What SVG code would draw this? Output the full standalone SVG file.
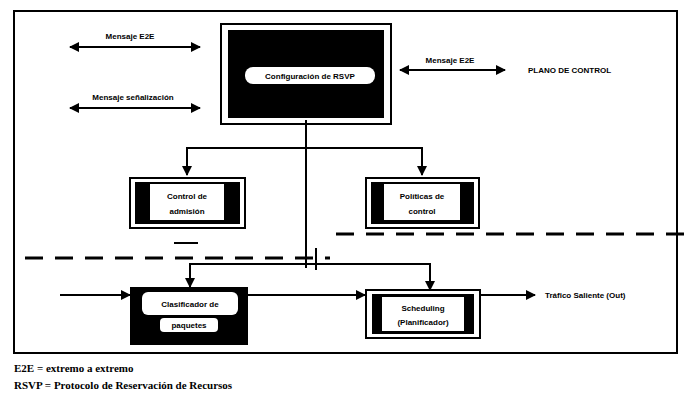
<svg xmlns="http://www.w3.org/2000/svg" width="698" height="398" viewBox="0 0 698 398">
<defs>
<marker id="ah" viewBox="0 0 10 10" refX="9" refY="5" markerWidth="5" markerHeight="5" orient="auto-start-reverse"><path d="M0,0 L10,5 L0,10 z" fill="#000"/></marker>
<style>
.t{font-family:"Liberation Sans",Arial,sans-serif;font-weight:bold;font-size:8px;fill:#000}
.w{font-family:"Liberation Sans",Arial,sans-serif;font-weight:bold;font-size:8px;fill:#000}
.n{font-family:"Liberation Serif","Times New Roman",serif;font-weight:bold;font-size:11px;fill:#000}
.ln{stroke:#000;stroke-width:2;fill:none}
.dash{stroke:#000;stroke-width:3;stroke-dasharray:18 12;fill:none}
.blk{fill:#000}
.frm{fill:#fff;stroke:#000;stroke-width:2}
</style>
</defs>
<rect x="14" y="11" width="663" height="342" fill="none" stroke="#000" stroke-width="2"/>

<g id="connectors">
<line class="ln" x1="70" y1="47" x2="200" y2="47" marker-start="url(#ah)" marker-end="url(#ah)"/>
<line class="ln" x1="70" y1="108" x2="200" y2="108" marker-start="url(#ah)" marker-end="url(#ah)"/>
<line class="ln" x1="400" y1="70" x2="505" y2="70" marker-start="url(#ah)" marker-end="url(#ah)"/>
<line class="ln" x1="306" y1="120" x2="306" y2="268"/>
<polyline class="ln" points="187,175 187,148 422,148 422,175" marker-start="url(#ah)" marker-end="url(#ah)"/>
<polyline class="ln" points="190,287 190,264 430,264 430,290" marker-start="url(#ah)" marker-end="url(#ah)"/>
<line class="ln" x1="60" y1="295" x2="130" y2="295" marker-end="url(#ah)"/>
<line class="ln" x1="248" y1="295" x2="365" y2="295" marker-end="url(#ah)"/>
<line class="ln" x1="480" y1="295" x2="535" y2="295" marker-end="url(#ah)"/>
<line class="dash" x1="25" y1="258" x2="330" y2="258"/>
<line class="dash" x1="336" y1="234" x2="690" y2="234"/>
<line class="ln" x1="316" y1="248" x2="316" y2="270"/>
<line class="ln" x1="174" y1="243" x2="198" y2="243"/>
</g>

<g id="lbl-e2e-1"><text class="t" x="130" y="39" text-anchor="middle">Mensaje E2E</text></g>
<g id="lbl-senal"><text class="t" x="133" y="100" text-anchor="middle">Mensaje señalización</text></g>
<g id="lbl-e2e-2"><text class="t" x="450" y="63" text-anchor="middle">Mensaje E2E</text></g>
<g id="plano"><text class="t" x="528" y="73">PLANO DE CONTROL</text></g>

<g id="rsvp">
<rect x="221" y="24" width="170" height="100" fill="none" stroke="#000" stroke-width="2"/>
<rect class="blk" x="228" y="30" width="156" height="88"/>
<rect x="245" y="67" width="130" height="17" rx="8" fill="#fff"/>
<text class="w" x="310" y="79" text-anchor="middle">Configuración de RSVP</text>
</g>

<g id="admision">
<rect class="frm" x="130" y="178" width="115" height="50"/>
<rect class="blk" x="135" y="182" width="105" height="42"/>
<rect x="150" y="184" width="74" height="36" fill="#fff"/>
<text class="w" x="187" y="199" text-anchor="middle">Control de</text>
<text class="w" x="187" y="214" text-anchor="middle">admisión</text>
</g>

<g id="politicas">
<rect class="frm" x="366" y="178" width="113" height="50"/>
<rect class="blk" x="371" y="182" width="103" height="42"/>
<rect x="384" y="184" width="76" height="36" fill="#fff"/>
<text class="w" x="422" y="199" text-anchor="middle">Políticas de</text>
<text class="w" x="422" y="214" text-anchor="middle">control</text>
</g>

<g id="clasificador">
<rect class="blk" x="130" y="287" width="118" height="58"/>
<rect x="142" y="292" width="96" height="23" rx="6" fill="#fff"/>
<rect x="160" y="318" width="58" height="14" rx="4" fill="#fff"/>
<text class="w" x="190" y="307" text-anchor="middle">Clasificador de</text>
<text class="w" x="189" y="328" text-anchor="middle">paquetes</text>
</g>

<g id="scheduling">
<rect class="frm" x="366" y="290" width="114" height="48"/>
<rect class="blk" x="372" y="294" width="102" height="40"/>
<rect x="382" y="297" width="82" height="34" fill="#fff"/>
<text class="w" x="423" y="311" text-anchor="middle">Scheduling</text>
<text class="w" x="423" y="325" text-anchor="middle">(Planificador)</text>
</g>

<g id="salida"><text class="t" x="545" y="298">Tráfico Saliente (Out)</text></g>

<g id="notas">
<text class="n" x="14" y="372">E2E = extremo a extremo</text>
<text class="n" x="14" y="389">RSVP = Protocolo de Reservación de Recursos</text>
</g>
</svg>
